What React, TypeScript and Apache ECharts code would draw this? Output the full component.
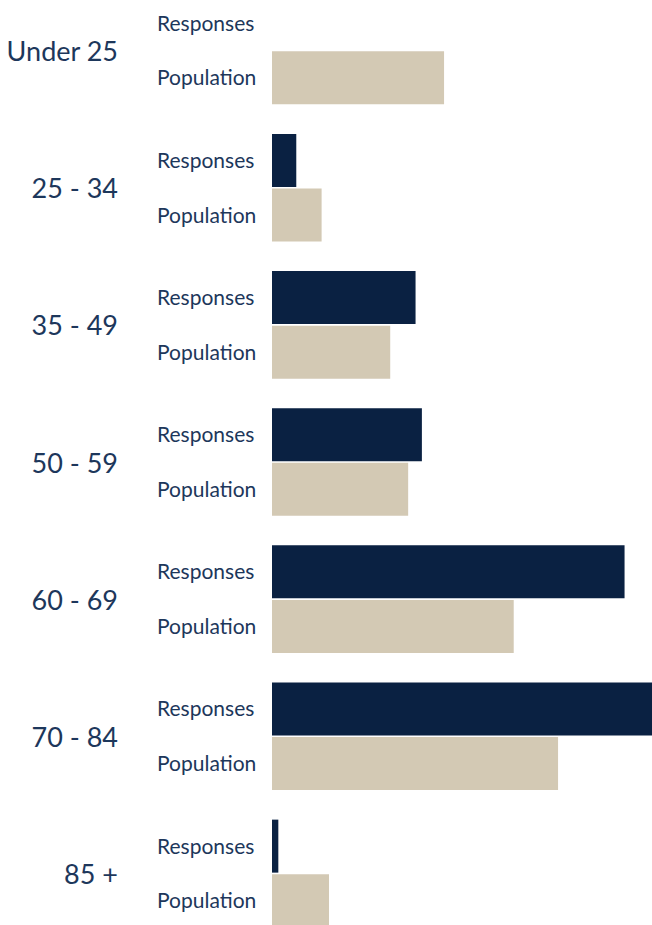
import React, { useEffect, useRef } from "react";
import * as echarts from "echarts";

const categories = ["Under 25", "25 - 34", "35 - 49", "50 - 59", "60 - 69", "70 - 84", "85 +"];
const responses = [0, 2.3, 13.6, 14.2, 33.4, 36.0, 0.6];
const population = [16.3, 4.7, 11.2, 12.9, 22.9, 27.1, 5.4];
const seriesNames = ["Responses", "Population"];

const NAVY = "#0a2142";
const BEIGE = "#d3c9b4";
const TEXT = "#1d375b";
const FONT = "Lato, 'Open Sans', sans-serif";

export default function App() {
  const ref = useRef<HTMLDivElement>(null);
  useEffect(() => {
    if (!ref.current) return;
    const chart = echarts.init(ref.current, null, { renderer: "svg" });
    const mkLabel = (name: string) => ({
      show: true,
      position: [-115, "50%"],
      offset: [0, -1],
      align: "left",
      verticalAlign: "middle",
      formatter: name,
      color: TEXT,
      fontSize: 21,
      fontFamily: FONT,
    });
    chart.setOption({
      animation: false,
      grid: { left: 272, right: 0, top: 0, bottom: 0, containLabel: false },
      xAxis: {
        type: "value",
        min: 0,
        max: 36,
        show: false,
      },
      yAxis: {
        type: "category",
        data: categories,
        inverse: true,
        axisLine: { show: false },
        axisTick: { show: false },
        splitLine: { show: false },
        axisLabel: {
          margin: 154,
          color: TEXT,
          fontSize: 27,
          fontFamily: FONT,
        },
      },
      series: [
        {
          name: seriesNames[0],
          type: "bar",
          data: responses,
          barWidth: 53,
          barGap: "3%",
          itemStyle: { color: NAVY },
          label: mkLabel(seriesNames[0]),
        },
        {
          name: seriesNames[1],
          type: "bar",
          data: population,
          barWidth: 53,
          barGap: "3%",
          itemStyle: { color: BEIGE },
          label: mkLabel(seriesNames[1]),
        },
      ],
    });
    return () => chart.dispose();
  }, []);
  return (
    <div
      style={{
        position: "fixed",
        left: 0,
        top: 0,
        width: 652,
        height: 925,
        overflow: "hidden",
        background: "#fff",
      }}
    >
      <div
        ref={ref}
        style={{ position: "absolute", left: 0, top: -18, width: 652, height: 960 }}
      />
    </div>
  );
}
